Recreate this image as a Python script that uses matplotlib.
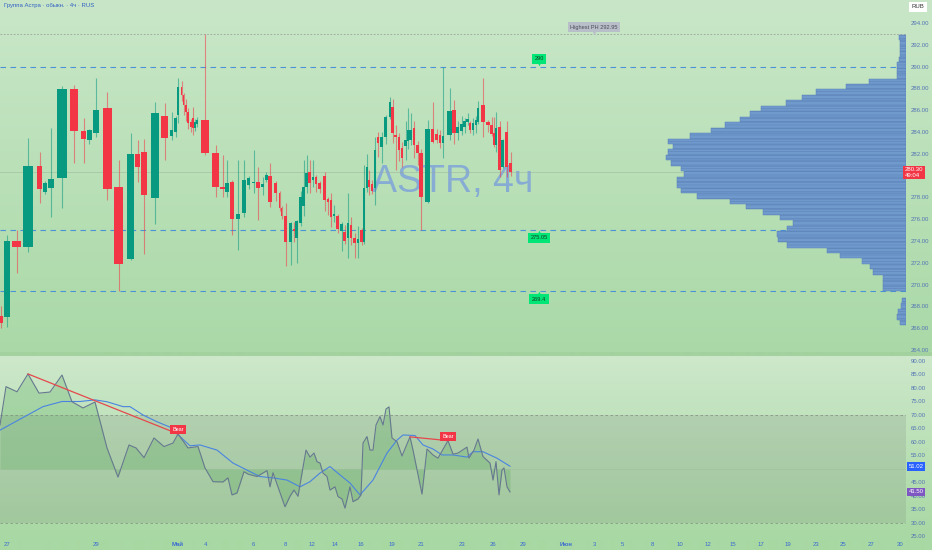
import numpy as np
import matplotlib
matplotlib.use("Agg")
import matplotlib.pyplot as plt
import matplotlib.transforms as mtransforms
from matplotlib.colors import to_rgb, to_rgba
from matplotlib.ticker import FuncFormatter

plt.rcParams['font.family'] = ['Liberation Sans', 'DejaVu Sans']
plt.rcParams['hatch.linewidth'] = 0.35

# ---------------- data ----------------
title = "Группа Астра · обыкн. · 4ч · RUS"
ticker_wm = "ASTR, 4ч"

# candle time positions (chart time scale) and OHLC
c_t = [1, 7, 16.5, 28, 39.5, 45, 51, 62, 74, 83.5, 89, 96, 107, 118.5, 130.5, 137.5, 144, 155, 164.5,
       171.5, 175.5, 178, 181.5, 183.5, 186, 188, 191, 193, 195, 197, 205, 215.5, 222.5, 227, 232, 238,
       244, 248.5, 253.5, 258, 262.5, 266, 270, 275.5, 279.5, 281.5, 285.5, 290.5, 294, 296.5, 300.5,
       303.5, 306.5, 309.5, 313, 316, 319.5, 324.5, 328, 331, 334, 337.5, 341.5, 344.5, 348, 351, 354.5,
       358, 361.5, 364, 366.5, 369, 372, 375, 378, 381.5, 385.5, 390, 392.5, 395.5, 399, 402, 405.5, 408,
       410.5, 414, 417.5, 421, 427.5, 432.5, 436.5, 440, 443, 449.5, 454, 457.5, 461.5, 464.5, 467.5, 470,
       473, 475.5, 478, 483, 488, 491.5, 494, 496, 499.5, 502.5, 506.5, 510.5]
c_o = [267.1, 267.03, 274.0, 273.45, 280.9, 278.5, 278.86, 279.78, 287.94, 284.09, 283.27, 283.9, 286.2,
       278.95, 272.35, 281.98, 282.17, 277.94, 285.47, 283.63, 284.0, 285.6, 288.1, 287.4, 286.5, 285.8,
       284.9, 285.3, 284.4, 284.7, 285.1, 282.07, 278.95, 278.5, 279.41, 276.0, 276.57, 279.1, 279.35,
       279.4, 279.0, 279.6, 279.96, 279.3, 278.4, 277.0, 276.29, 273.9, 275.1, 274.28, 275.65, 277.2,
       278.95, 280.3, 279.6, 279.9, 279.3, 280.0, 277.9, 277.76, 276.3, 276.3, 274.9, 274.8, 274.28,
       275.5, 274.3, 273.8, 275.0, 273.9, 278.86, 279.6, 279.2, 278.86, 283.5, 282.6, 283.54, 285.38,
       286.3, 283.7, 283.5, 282.5, 282.7, 283.2, 283.27, 284.4, 282.8, 282.07, 277.6, 284.28, 283.8,
       283.7, 283.0, 283.72, 286.0, 283.9, 284.1, 284.5, 284.9, 284.8, 284.2, 284.6, 284.9, 286.48,
       284.9, 284.6, 283.9, 282.8, 284.46, 280.8, 284.0, 281.2]
c_h = [268.0, 274.55, 275.0, 283.45, 282.2, 279.5, 284.37, 288.2, 288.3, 285.3, 284.3, 288.95, 287.7,
       281.4, 283.9, 283.3, 283.4, 286.75, 286.66, 285.8, 285.5, 289.0, 288.7, 287.6, 287.0, 286.2,
       285.2, 286.3, 285.2, 285.4, 292.95, 282.8, 281.9, 281.4, 279.6, 281.43, 281.4, 280.0, 282.35,
       280.8, 279.9, 280.3, 281.2, 279.5, 278.6, 277.2, 277.5, 275.74, 275.74, 275.93, 278.6, 281.43,
       281.9, 281.4, 281.4, 280.1, 279.5, 280.3, 278.0, 278.4, 277.3, 276.5, 275.7, 275.5, 278.4, 276.2,
       274.7, 275.4, 275.2, 281.0, 282.0, 280.5, 279.6, 283.54, 284.0, 284.0, 285.6, 287.2, 287.0, 284.6,
       283.9, 283.1, 285.0, 286.2, 285.7, 285.0, 283.2, 282.4, 285.1, 286.75, 284.3, 284.2, 289.96,
       288.0, 286.9, 285.0, 285.5, 285.3, 285.7, 285.0, 285.3, 285.5, 286.8, 288.95, 285.1, 285.4,
       285.4, 285.8, 285.0, 283.4, 285.0, 282.2]
c_l = [266.0, 266.12, 271.1, 273.0, 277.5, 278.3, 276.2, 277.0, 281.16, 281.2, 282.9, 283.5, 277.8,
       269.41, 272.3, 279.4, 272.8, 275.56, 281.43, 283.3, 283.5, 284.8, 286.8, 285.6, 285.0, 284.3,
       284.0, 283.7, 284.1, 284.5, 281.9, 278.0, 278.0, 278.0, 274.55, 273.2, 276.2, 278.8, 278.4,
       275.93, 278.2, 279.4, 277.1, 277.7, 276.8, 276.0, 271.7, 271.8, 273.9, 271.98, 275.4, 276.3,
       278.4, 278.4, 279.0, 278.5, 278.4, 276.8, 276.4, 275.3, 275.7, 274.7, 273.1, 273.7, 272.4, 273.6,
       272.4, 272.4, 273.6, 273.7, 278.5, 278.2, 278.3, 277.3, 281.7, 281.2, 282.9, 285.2, 283.0, 280.5,
       281.3, 280.8, 281.4, 282.4, 282.8, 281.6, 281.0, 275.0, 277.5, 283.0, 283.0, 282.5, 281.6, 283.3,
       282.9, 283.3, 283.7, 283.9, 284.6, 283.9, 283.7, 283.9, 284.7, 283.54, 284.0, 283.6, 282.6,
       282.2, 279.9, 280.7, 279.9, 280.0]
c_c = [266.5, 274.0, 273.45, 280.9, 278.8, 279.3, 279.69, 287.94, 284.09, 283.36, 284.18, 286.0, 278.8,
       271.89, 281.98, 280.8, 278.2, 285.74, 283.45, 284.2, 285.3, 288.1, 287.4, 286.5, 285.8, 284.8,
       284.5, 284.4, 284.9, 285.1, 282.07, 278.95, 278.77, 279.3, 276.02, 276.48, 279.6, 279.8, 279.45,
       278.86, 279.23, 280.1, 277.58, 278.4, 277.0, 276.3, 273.9, 275.65, 274.9, 275.84, 278.04, 278.95,
       280.2, 279.3, 279.9, 279.2, 278.8, 277.76, 277.6, 276.2, 276.5, 275.1, 275.6, 274.0, 275.65,
       274.3, 273.8, 274.2, 273.9, 278.86, 280.8, 278.95, 278.6, 282.35, 282.99, 283.5, 285.38, 286.75,
       283.9, 283.5, 282.35, 281.6, 283.3, 284.2, 284.18, 282.8, 282.1, 278.04, 284.3, 283.1, 283.27,
       283.0, 283.6, 285.9, 283.9, 284.5, 284.7, 285.0, 285.2, 284.2, 284.8, 285.1, 286.2, 284.9, 284.6,
       283.8, 282.8, 284.4, 280.5, 283.27, 280.8, 280.3]

last_price = 280.30
countdown = "49:04"

# horizontal levels
highest_ph = 292.95
levels = [290.0, 275.05, 269.4]
level_texts = ["290", "275.05", "269.4"]
level_label_t = [539, 539, 539]

# volume profile (bin bottoms, bin size 0.5)
vp_bin = 0.5
vp_price = list(np.round(np.arange(266.3, 268.31, 0.5), 2)) + list(np.round(np.arange(269.4, 292.41, 0.5), 2))
vp_vol = [6, 9, 8, 5, 4,
          23, 23, 23, 33, 36, 44, 66, 79, 119, 128, 129, 119, 113, 126, 143, 160, 176, 209, 225, 229,
          229, 222, 225, 235, 240, 238, 233, 238, 216, 195, 181, 166, 156, 145, 120, 104, 90, 60, 37,
          9, 9, 9, 7, 6, 6, 6, 7]

# RSI
rsi_t = [0, 6, 17, 28, 39, 50, 62, 72, 83, 95, 107, 118, 129, 136, 144, 154, 164, 173, 178, 188,
         198, 205, 213, 223, 228, 232, 237, 244, 248, 257, 267, 270, 273, 285, 290, 294, 298, 306, 310, 314,
         317, 320, 323, 327, 330, 335, 338, 342, 345, 350, 353, 358, 361, 363, 367, 370, 373, 376, 380, 383,
         386, 389, 392, 397, 402, 410, 413, 422, 427, 433, 438, 448, 453, 458, 467, 469, 474, 478, 483, 490,
         493, 496, 499, 502, 504, 507, 510]
rsi_v = [66.3, 80.5, 78.6, 85.2, 78.1, 78.5, 84.8, 74.9, 72.6, 74.8, 57.8, 47.0, 58.9, 57.8, 54.2, 61.5,
         58.3, 59.6, 63.0, 57.8, 58.3, 50.4, 45.3, 45.2, 46.7, 40.4, 41.1, 49.0, 48.1, 47.2, 49.4, 43.4, 48.6,
         36.0, 39.9, 42.2, 39.9, 57.0, 54.4, 55.9, 52.7, 52.2, 48.5, 47.2, 42.2, 43.4, 39.8, 38.9, 35.5, 43.4,
         37.9, 38.9, 40.4, 59.6, 62.0, 57.0, 57.0, 66.3, 69.4, 66.3, 72.2, 73.0, 61.5, 60.1, 54.8, 61.9, 57.0,
         40.7, 57.4, 55.2, 54.0, 60.5, 55.5, 55.9, 58.1, 54.0, 57.0, 61.1, 54.6, 52.2, 45.9, 52.7, 40.4, 49.6,
         50.4, 43.4, 41.5]
ma_t = [0, 43, 62, 80, 95, 107, 123, 130, 143, 157, 170, 180, 190, 200, 217, 233, 248, 260, 273, 287,
        300, 310, 320, 330, 340, 350, 360, 373, 387, 397, 403, 415, 423, 433, 442, 453, 467, 473, 483, 497, 510]
ma_v = [64.4, 73.1, 75.0, 75.0, 75.6, 74.9, 73.1, 73.1, 70.0, 67.5, 65.5, 62.0, 58.6, 58.9, 57.0, 52.2,
        49.4, 47.2, 46.7, 45.9, 43.4, 45.3, 48.5, 50.9, 47.8, 44.8, 40.4, 45.9, 55.9, 60.7, 62.6, 62.4, 58.9,
        57.4, 55.2, 55.2, 54.4, 56.4, 56.4, 54.0, 51.02]
rsi_last = 41.50
ma_last = 51.02
div_t = [(28, 178), (410, 448)]
div_v = [(85.2, 63.0), (61.9, 60.5)]

# price / rsi scale ticks
price_ticks = [264, 266, 268, 270, 272, 274, 276, 278, 282, 284, 286, 288, 290, 292, 294]
rsi_ticks = [25, 30, 35, 40, 45, 50, 55, 60, 65, 70, 75, 80, 85, 90]

# time axis
tick_t = [7, 96, 178, 205, 253, 285, 312, 335, 361, 392, 421, 462, 493, 523, 566, 594, 622, 652, 680,
          708, 733, 761, 788, 816, 843, 871, 900]
tick_lbl = ["27", "29", "Май", "4", "6", "8", "12", "14", "16", "19", "21", "23", "26", "29", "Июн",
            "3", "5", "8", "10", "12", "15", "17", "19", "23", "25", "27", "30"]

# ---------------- figure ----------------
W, H = 932, 550
fig = plt.figure(figsize=(W / 100, H / 100), dpi=100)
fx = lambda px: px / W
fy = lambda py: 1 - py / H

PANE_R = 906
P_TOP, P_BOT = 0, 352
R_TOP, R_BOT = 356, 540

def lerp(a, b, t):
    return tuple(np.array(to_rgb(a)) * (1 - t) + np.array(to_rgb(b)) * t)

rows = np.zeros((H, 1, 3))
for y in range(H):
    if y < P_BOT:
        rows[y, 0] = lerp('#c9e7c8', '#aad9a7', y / P_BOT)
    elif y < R_TOP:
        rows[y, 0] = to_rgb('#a3d29f')
    elif y < R_BOT:
        rows[y, 0] = lerp('#cde8ca', '#a8d8a3', (y - R_TOP) / (R_BOT - R_TOP))
    else:
        rows[y, 0] = to_rgb('#a8d8a3')
bg = fig.add_axes([0, 0, 1, 1], zorder=-10)
bg.imshow(rows, aspect='auto', extent=[0, 1, 0, 1], interpolation='bilinear')
bg.axis('off')

lab_col = '#5474b5'
small = 4.3

# ---- price pane ----
ax = fig.add_axes([0, fy(P_BOT), fx(PANE_R), (P_BOT - P_TOP) / H])
ax.patch.set_alpha(0)
ax.set_xlim(0, PANE_R)
ax.set_ylim(263.82, 296.11)
for s in ax.spines.values():
    s.set_visible(False)
ax.set_xticks([])
ax.yaxis.tick_right()
ax.set_yticks(price_ticks)
ax.yaxis.set_major_formatter(FuncFormatter(lambda v, p: f"{v:.2f}"))
ax.tick_params(axis='y', length=0, pad=3.6, labelsize=small, labelcolor=lab_col)

ax.text(453, 278.5, ticker_wm, fontsize=27, color='#6a8ee6', alpha=0.62, ha='center',
        va='baseline', zorder=1)

ax.axhline(highest_ph, color='#9aa2a0', lw=0.6, ls=(0, (2, 2)), zorder=1.5)
for lv in levels:
    ax.axhline(lv, color='#4a93d6', lw=0.8, ls=(0, (5, 4)), zorder=1.5)
ax.axhline(last_price, color='#9aa89a', lw=0.5, alpha=0.6, zorder=1.2)

t = np.array(c_t, float)
o = np.array(c_o); h = np.array(c_h); l = np.array(c_l); c = np.array(c_c)
gaps = np.diff(t)
gp = np.r_[gaps[0], gaps]
gn = np.r_[gaps, gaps[-1]]
w = np.minimum(0.8 * (gp + gn) / 2, 0.95 * np.minimum(gp, gn))
up = c >= o
col = np.where(up, '#089981', '#f23645')
wick_cols = [to_rgba(cc, 0.55) for cc in col]
ax.vlines(t, l, h, colors=wick_cols, lw=0.8, zorder=2.5)
ax.bar(t, np.maximum(np.abs(c - o), 0.07), bottom=np.minimum(o, c), width=w, color=col,
       linewidth=0, zorder=3)

green = '#00e676'
def tag(x, y, s, fc, tc, ptr, yp):
    ax.text(x, y, s, fontsize=4.1, color=tc, ha='center', va='center', zorder=6,
            bbox=dict(boxstyle='square,pad=0.45', fc=fc, ec='none'))
    ax.plot([x], [yp], marker=ptr, ms=2.6, color=fc, mec='none', zorder=6)

tag(594, 293.6, f"Highest PH {highest_ph:.2f}", '#b9bfc9', '#4a4a55', 'v', 293.1)
tag(level_label_t[0], levels[0] + 0.7, level_texts[0], green, '#1a3a22', 'v', levels[0] + 0.2)
tag(level_label_t[1], levels[1] - 0.75, level_texts[1], green, '#1a3a22', '^', levels[1] - 0.2)
tag(level_label_t[2], levels[2] - 0.72, level_texts[2], green, '#1a3a22', '^', levels[2] - 0.2)

# volume profile
axv = ax.twiny()
axv.patch.set_visible(False)
axv.axis('off')
axv.set_xlim(max(vp_vol) / 0.265, 0)
axv.set_ylim(ax.get_ylim())
axv.barh(vp_price, vp_vol, height=vp_bin, align='edge', color='#7099cc', edgecolor='#5a82b9',
         linewidth=0.35, hatch='-----', zorder=4)

# ---- RSI pane ----
rx = fig.add_axes([0, fy(R_BOT), fx(PANE_R), (R_BOT - R_TOP) / H])
rx.patch.set_alpha(0)
rx.set_xlim(0, PANE_R)
rx.set_ylim(23.7, 91.85)
for s in rx.spines.values():
    s.set_visible(False)
rx.yaxis.tick_right()
rx.set_yticks(rsi_ticks)
rx.yaxis.set_major_formatter(FuncFormatter(lambda v, p: f"{v:.2f}"))
rx.tick_params(axis='y', length=0, pad=3.6, labelsize=small, labelcolor=lab_col)
rx.set_xticks(tick_t)
rx.set_xticklabels(tick_lbl)
rx.tick_params(axis='x', length=0, pad=1.2, labelsize=small, labelcolor='#3b6cd0')
for tl in rx.get_xticklabels():
    if tl.get_text() in ("Май", "Июн"):
        tl.set_fontweight('bold')

rx.axhspan(30, 70, color='#7f8c7f', alpha=0.22, lw=0, zorder=0.5)
rx.axhline(70, color='#7d8a7d', lw=0.6, ls=(0, (3, 3)), alpha=0.8)
rx.axhline(30, color='#7d8a7d', lw=0.6, ls=(0, (3, 3)), alpha=0.8)
rx.axhline(50, color='#7d8a7d', lw=0.4, alpha=0.18)
rx.fill_between(rsi_t, rsi_v, 50, color='#3f9f45', alpha=0.22, lw=0, interpolate=True, zorder=1)
rx.plot(ma_t, ma_v, color='#4a84e0', lw=0.8, zorder=3)
rx.plot(rsi_t, rsi_v, color='#66788f', lw=0.8, zorder=3)
for (t0, t1), (v0, v1) in zip(div_t, div_v):
    rx.plot([t0, t1], [v0, v1], color='#e5484d', lw=0.9, zorder=4)
    rx.text(t1, v1 + 0.6, "Bear", fontsize=4.0, color='white', ha='center', va='bottom', zorder=6,
            bbox=dict(boxstyle='square,pad=0.35', fc='#f23645', ec='none'))

# ---- right-side boxes (figure level) ----
tp = mtransforms.blended_transform_factory(fig.transFigure, ax.transData)
tr = mtransforms.blended_transform_factory(fig.transFigure, rx.transData)
fig.text(fx(905), last_price + 0.45, f"{last_price:.2f}\n{countdown}", transform=tp, fontsize=small,
         color='white', ha='left', va='top', linespacing=1.05,
         bbox=dict(boxstyle='square,pad=0.3', fc='#f23645', ec='none'))
fig.text(fx(916), ma_last, f"{ma_last:.2f}", transform=tr, fontsize=small, color='white',
         ha='center', va='center', bbox=dict(boxstyle='square,pad=0.3', fc='#2962ff', ec='none'))
fig.text(fx(916), rsi_last, f"{rsi_last:.2f}", transform=tr, fontsize=small, color='white',
         ha='center', va='center', bbox=dict(boxstyle='square,pad=0.3', fc='#7e57c2', ec='none'))
fig.text(fx(918), fy(7), "RUB", fontsize=small, color='#333333', ha='center', va='center',
         bbox=dict(boxstyle='square,pad=0.45', fc='white', ec='none'))
fig.text(fx(4), fy(6), title, fontsize=small, color='#2f5fc4', ha='left', va='center')

fig.savefig("out.png", dpi=100)
